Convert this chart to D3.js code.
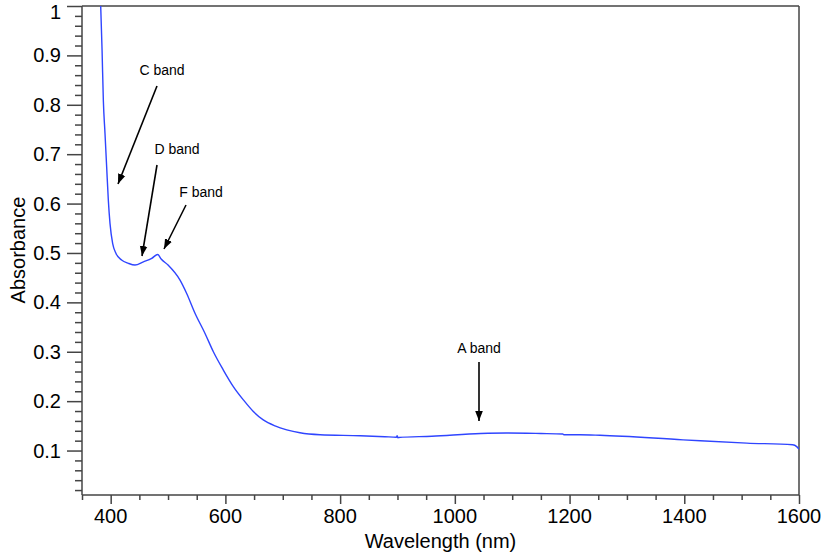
<!DOCTYPE html>
<html><head><meta charset="utf-8">
<script src="https://cdn.jsdelivr.net/npm/d3@7"></script>
<style>body{margin:0;background:#fff;} svg{display:block;font-family:"Liberation Sans",Arial,Helvetica,sans-serif;}</style>
</head><body>
<svg id="chart" width="823" height="560"></svg>
<script>
const wavelength = [382.6,385,387.2,390.1,393,395.9,398.8,403.5,409.3,419,430.8,442.4,457,471.5,482,488,500,520.9,532.5,547,564.5,579,596.4,613.8,631.3,648.7,666,686.5,707,730,765,835,878,898,899.5,900.5,902,960,1045,1090,1150,1188,1190,1218,1253,1398,1509,1589,1596,1600];
const absorbance = [1.0,0.910,0.809,0.742,0.674,0.607,0.560,0.519,0.499,0.4857,0.479,0.4755,0.482,0.489,0.497,0.4877,0.4755,0.445,0.418,0.378,0.337,0.300,0.263,0.2295,0.2026,0.179,0.162,0.150,0.142,0.136,0.132,0.130,0.128,0.127,0.130,0.126,0.1265,0.129,0.1345,0.1355,0.1345,0.1335,0.132,0.132,0.131,0.1217,0.115,0.1116,0.108,0.103];
const xTicks = [400,600,800,1000,1200,1400,1600];
const yTicks = [0.1,0.2,0.3,0.4,0.5,0.6,0.7,0.8,0.9,1];
const annotations = [
  {label:"C band", tx:162, ty:75, x1:157, y1:86, x2:118, y2:184},
  {label:"D band", tx:177, ty:154, x1:157, y1:165, x2:142, y2:256},
  {label:"F band", tx:201, ty:197, x1:186, y1:205, x2:164, y2:249},
  {label:"A band", tx:479, ty:353, x1:479, y1:362, x2:479, y2:421}
];

const svg = d3.select("#chart");
const L=82, R=799, T=6, B=495;
const x = d3.scaleLinear().domain([350,1600]).range([L,R]);
const y = d3.scaleLinear().domain([0.01,1]).range([B,T]);
const axisColor = "#444";

svg.append("defs").append("clipPath").attr("id","clip")
  .append("rect").attr("x",L).attr("y",T).attr("width",R-L).attr("height",B-T);
svg.append("defs").append("marker").attr("id","arrow").attr("viewBox","0 0 10 10")
  .attr("refX",10).attr("refY",5).attr("markerWidth",10).attr("markerHeight",10)
  .attr("markerUnits","userSpaceOnUse").attr("orient","auto")
  .append("path").attr("d","M0,1.2 L10,5 L0,8.8 Z").attr("fill","#000");

// frame
svg.append("line").attr("x1",L).attr("x2",R).attr("y1",T).attr("y2",T).attr("stroke",axisColor).attr("stroke-width",1.5);
svg.append("line").attr("x1",R).attr("x2",R).attr("y1",T).attr("y2",B).attr("stroke",axisColor).attr("stroke-width",1.5);

// x axis
const xMinor = d3.range(350,1601,50);
const gx = svg.append("g").attr("transform",`translate(0,${B})`);
gx.call(d3.axisBottom(x).tickValues(xMinor).tickSize(5).tickFormat(""));
gx.call(g=>g.selectAll(".tick").filter(d=>xTicks.includes(d)).select("line").attr("y2",9));
gx.selectAll(".domain").attr("d",`M${L},0H${R}`);
gx.selectAll("line,path").attr("stroke",axisColor).attr("stroke-width",1.5);
xTicks.forEach(v=>{
  svg.append("text").attr("x",x(v)).attr("y",523).attr("text-anchor","middle")
    .attr("font-size",20).attr("fill","#000").text(v);
});

// y axis
const yMinor = d3.range(1,51).map(i=>+(i*0.02).toFixed(2));
const gy = svg.append("g").attr("transform",`translate(${L},0)`);
gy.call(d3.axisLeft(y).tickValues(yMinor).tickSize(7).tickFormat(""));
gy.call(g=>g.selectAll(".tick").filter(d=>Math.abs(Math.round(d*10)-d*10)<1e-6).select("line").attr("x2",-15));
gy.selectAll(".domain").attr("d",`M0,${T}V${B}`);
gy.selectAll("line,path").attr("stroke",axisColor).attr("stroke-width",1.5);
yTicks.forEach(v=>{
  svg.append("text").attr("x",61).attr("y",Math.max(y(v)+7,18.5)).attr("text-anchor","end")
    .attr("font-size",20).attr("fill","#000").text(d3.format("~g")(v));
});

// axis titles
svg.append("text").attr("x",(L+R)/2).attr("y",548).attr("text-anchor","middle")
  .attr("font-size",20).attr("fill","#000").text("Wavelength (nm)");
svg.append("text").attr("transform",`translate(25,250) rotate(-90)`).attr("text-anchor","middle")
  .attr("font-size",20).attr("fill","#000").text("Absorbance");

// curve
const data = wavelength.map((w,i)=>[w,absorbance[i]]);
svg.append("path").datum(data).attr("clip-path","url(#clip)")
  .attr("fill","none").attr("stroke","#2f45ff").attr("stroke-width",1.4)
  .attr("d",d3.line().x(d=>x(d[0])).y(d=>y(d[1])).curve(d3.curveMonotoneX));

// annotations
annotations.forEach(a=>{
  svg.append("text").attr("x",a.tx).attr("y",a.ty).attr("text-anchor","middle")
    .attr("font-size",14).attr("fill","#000").text(a.label);
  svg.append("line").attr("x1",a.x1).attr("y1",a.y1).attr("x2",a.x2).attr("y2",a.y2)
    .attr("stroke","#000").attr("stroke-width",1.6).attr("marker-end","url(#arrow)");
});
</script>
</body></html>
